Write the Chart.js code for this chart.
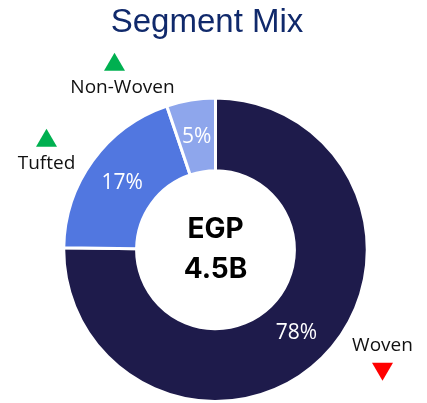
<!DOCTYPE html>
<html>
<head>
<meta charset="utf-8">
<script src="https://cdn.jsdelivr.net/npm/chart.js@4.4.0/dist/chart.umd.min.js"></script>
<style>
  html, body { margin: 0; padding: 0; background: #fff; }
  canvas { display: block; }
</style>
</head>
<body>
<canvas id="mixChart" width="427" height="403"></canvas>
<script>
// segment shares as drawn, and the labels printed on them
const segments = ['Woven', 'Tufted', 'Non-Woven'];
const shares = [75.2, 19.6, 5.2];
const shownPct = ['78%', '17%', '5%'];
const trend = ['down', 'up', 'up'];
const colors = ['#1e1b4b', '#5177e0', '#8ea6ec'];

const centerLines = ['EGP', '4.5B'];
const chartTitle = 'Segment Mix';

// where the outside labels sit, relative to the doughnut centre
const outsideLabels = [
    { dx: 167, dy: 96, ax: 0, arrowBelow: true },
    { dx: -169, dy: -86, ax: 0, arrowBelow: false },
    { dx: -93, dy: -162, ax: -8, arrowBelow: false }
];

function triangle(ctx, x, y, up, color) {
    const w = 21, h = 18;
    ctx.fillStyle = color;
    ctx.beginPath();
    if (up) {
        ctx.moveTo(x, y - h / 2);
        ctx.lineTo(x + w / 2, y + h / 2);
        ctx.lineTo(x - w / 2, y + h / 2);
    } else {
        ctx.moveTo(x - w / 2, y - h / 2);
        ctx.lineTo(x + w / 2, y - h / 2);
        ctx.lineTo(x, y + h / 2);
    }
    ctx.closePath();
    ctx.fill();
}

const textPlugin = {
    id: 'textPlugin',
    afterDraw(chart) {
        const ctx = chart.ctx;
        const meta = chart.getDatasetMeta(0);
        const first = meta.data[0];
        const cx = first.x, cy = first.y;

        ctx.save();
        ctx.textAlign = 'center';
        ctx.textBaseline = 'middle';

        // title
        ctx.fillStyle = '#10296b';
        ctx.font = '33px "Liberation Sans", Arial, sans-serif';
        ctx.fillText(chartTitle, 207, 23);

        // percentages on the arcs
        ctx.fillStyle = '#ffffff';
        ctx.font = '21px "Open Sans", sans-serif';
        meta.data.forEach((arc, i) => {
            const p = arc.tooltipPosition();
            ctx.fillText(shownPct[i], p.x, p.y + 1);
        });

        // centre text
        ctx.fillStyle = '#000000';
        ctx.font = 'bold 28px Inter, "Liberation Sans", sans-serif';
        ctx.fillText(centerLines[0], cx, cy - 20);
        ctx.fillText(centerLines[1], cx, cy + 20);

        // outside labels with trend arrows
        ctx.font = '19px "Open Sans", sans-serif';
        segments.forEach((name, i) => {
            const pos = outsideLabels[i];
            const x = cx + pos.dx, y = cy + pos.dy;
            ctx.fillStyle = '#111111';
            ctx.fillText(name, x, y);
            const up = trend[i] === 'up';
            const col = up ? '#00b050' : '#ff0000';
            const ay = pos.arrowBelow ? y + 26 : y - 26;
            triangle(ctx, x + pos.ax, ay, up, col);
        });
        ctx.restore();
    }
};

new Chart(document.getElementById('mixChart'), {
    type: 'doughnut',
    data: {
        labels: segments,
        datasets: [{
            data: shares,
            backgroundColor: colors,
            borderColor: '#ffffff',
            borderWidth: 3
        }]
    },
    options: {
        responsive: false,
        animation: false,
        cutout: '52%',
        layout: { padding: { top: 96.5, bottom: 0, left: 4, right: 0 } },
        plugins: {
            legend: { display: false },
            tooltip: { enabled: false },
            title: { display: false }
        }
    },
    plugins: [textPlugin]
});
</script>
</body>
</html>
